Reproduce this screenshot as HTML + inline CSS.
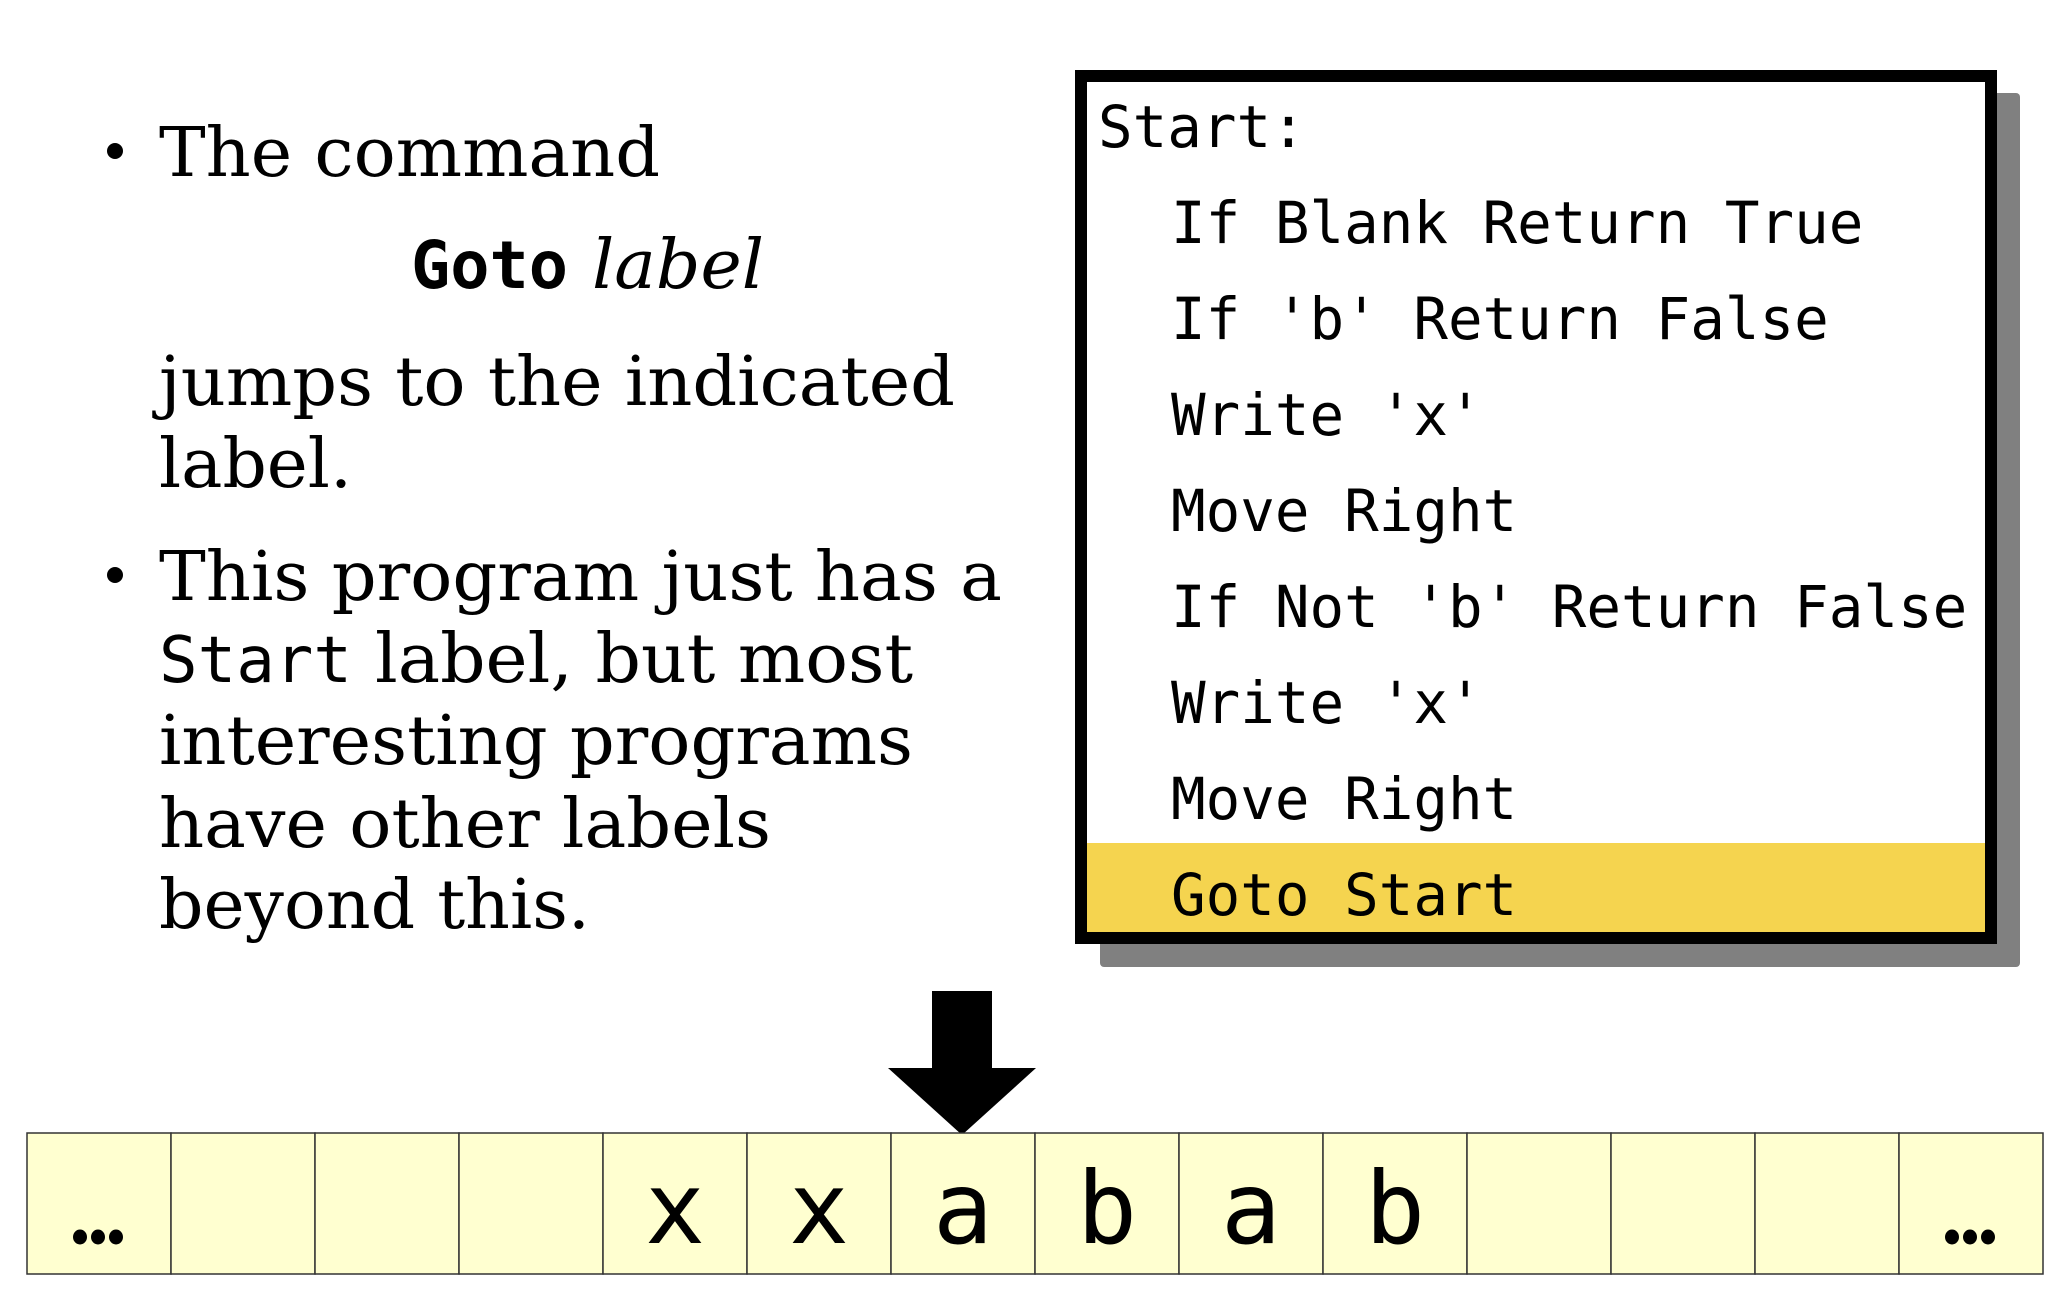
<!DOCTYPE html>
<html><head><meta charset="utf-8"><style>html,body{margin:0;padding:0;background:#fff}svg{display:block}</style></head>
<body>
<svg width="2070" height="1310" viewBox="0 0 2070 1310" xmlns="http://www.w3.org/2000/svg">
<rect width="2070" height="1310" fill="#fff"/>
<g font-family="'DejaVu Serif','Liberation Serif',serif" font-size="68" fill="#000">
<circle cx="115" cy="151" r="8"/>
<text x="159" y="176" textLength="501" lengthAdjust="spacingAndGlyphs">The command</text>
<text x="411" y="288" font-family="'DejaVu Sans Mono','Liberation Mono',monospace" font-weight="bold" font-size="66" textLength="157" lengthAdjust="spacingAndGlyphs">Goto</text>
<text x="592" y="288" font-style="italic" textLength="172" lengthAdjust="spacingAndGlyphs">label</text>
<text x="159" y="405" textLength="796" lengthAdjust="spacingAndGlyphs">jumps to the indicated</text>
<text x="159" y="487" textLength="193" lengthAdjust="spacingAndGlyphs">label.</text>
<circle cx="115" cy="575" r="8"/>
<text x="159" y="600" textLength="843" lengthAdjust="spacingAndGlyphs">This program just has a</text>
<text x="159" y="682" font-family="'DejaVu Sans Mono','Liberation Mono',monospace" font-size="64" textLength="193" lengthAdjust="spacingAndGlyphs">Start</text>
<text x="375" y="682" textLength="538" lengthAdjust="spacingAndGlyphs">label, but most</text>
<text x="159" y="764" textLength="754" lengthAdjust="spacingAndGlyphs">interesting programs</text>
<text x="159" y="847" textLength="612" lengthAdjust="spacingAndGlyphs">have other labels</text>
<text x="159" y="928" textLength="431" lengthAdjust="spacingAndGlyphs">beyond this.</text>
</g>
<rect x="1100" y="93" width="920" height="874" rx="4" fill="#808080"/>
<rect x="1081" y="76" width="910" height="862" fill="#fff" stroke="#000" stroke-width="12"/>
<rect x="1087" y="843" width="898" height="89" fill="#f5d44f"/>
<g font-family="'DejaVu Sans Mono','Liberation Mono',monospace" font-size="57.5" fill="#000">
<text x="1098" y="147">Start:</text>
<text x="1171" y="243">If Blank Return True</text>
<text x="1171" y="339">If 'b' Return False</text>
<text x="1171" y="435">Write 'x'</text>
<text x="1171" y="531">Move Right</text>
<text x="1171" y="627">If Not 'b' Return False</text>
<text x="1171" y="723">Write 'x'</text>
<text x="1171" y="819">Move Right</text>
<text x="1171" y="915">Goto Start</text>
</g>
<rect x="932" y="991" width="60" height="78" fill="#000"/>
<polygon points="888,1068 1036,1068 962,1135" fill="#000"/>
<g stroke="#333" stroke-width="1.5" fill="#ffffd0">
<rect x="27" y="1133" width="144" height="141"/>
<rect x="171" y="1133" width="144" height="141"/>
<rect x="315" y="1133" width="144" height="141"/>
<rect x="459" y="1133" width="144" height="141"/>
<rect x="603" y="1133" width="144" height="141"/>
<rect x="747" y="1133" width="144" height="141"/>
<rect x="891" y="1133" width="144" height="141"/>
<rect x="1035" y="1133" width="144" height="141"/>
<rect x="1179" y="1133" width="144" height="141"/>
<rect x="1323" y="1133" width="144" height="141"/>
<rect x="1467" y="1133" width="144" height="141"/>
<rect x="1611" y="1133" width="144" height="141"/>
<rect x="1755" y="1133" width="144" height="141"/>
<rect x="1899" y="1133" width="144" height="141"/>
</g>
<g fill="#000">
<ellipse cx="80" cy="1237" rx="7" ry="7.5"/>
<ellipse cx="98" cy="1237" rx="7" ry="7.5"/>
<ellipse cx="116" cy="1237" rx="7" ry="7.5"/>
<ellipse cx="1952" cy="1237" rx="7" ry="7.5"/>
<ellipse cx="1970" cy="1237" rx="7" ry="7.5"/>
<ellipse cx="1988" cy="1237" rx="7" ry="7.5"/>
</g>
<g font-family="'DejaVu Sans Mono','Liberation Mono',monospace" font-size="100" fill="#000" text-anchor="middle">
<text x="675" y="1243">x</text>
<text x="819" y="1243">x</text>
<text x="963" y="1243">a</text>
<text x="1107" y="1243">b</text>
<text x="1251" y="1243">a</text>
<text x="1395" y="1243">b</text>
</g>
</svg>
</body></html>
